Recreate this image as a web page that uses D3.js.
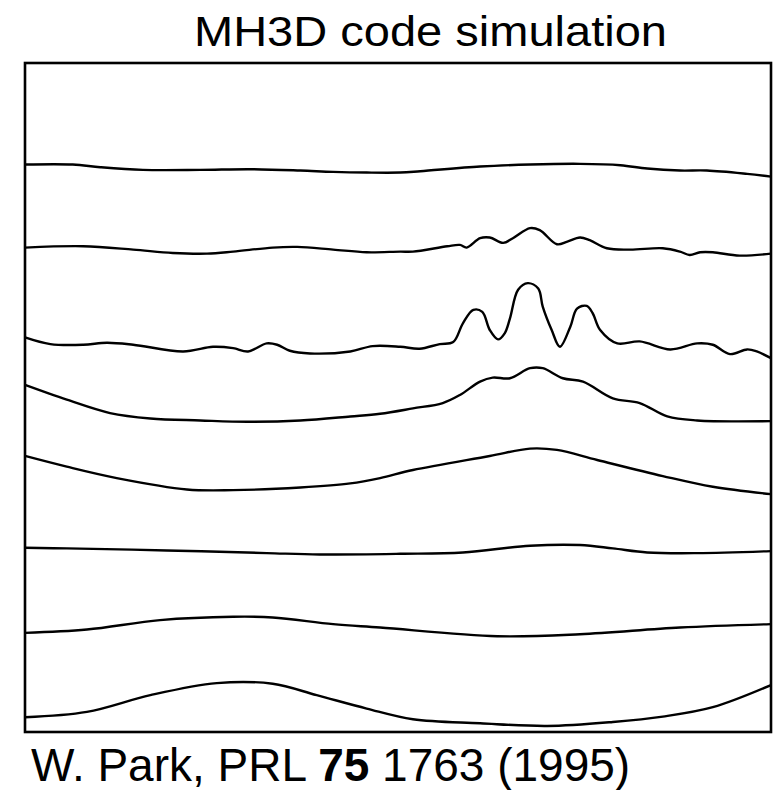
<!DOCTYPE html>
<html>
<head>
<meta charset="utf-8">
<script src="https://cdn.jsdelivr.net/npm/d3@7"></script>
<style>
  html, body { margin: 0; padding: 0; background: #fff; }
  svg { display: block; }
  text { font-family: "Liberation Sans", Arial, Helvetica, sans-serif; fill: #000; }
</style>
</head>
<body>
<div id="chart"></div>
<script>
// x: position across the box (0-100), y: height above box bottom (0-100)
const curve1 = [[0,84.7],[6.4,84.7],[10.1,84.3],[15.8,83.9],[23.5,83.9],[30.2,84.0],[36.9,83.8],[41.3,83.6],[45.8,83.5],[50.3,83.5],[53.0,83.7],[61.0,84.4],[67.7,84.7],[74.4,84.8],[79.8,84.6],[83.4,84.1],[87.8,83.8],[91.4,83.8],[96.8,83.3],[100,82.9]];
const curve2 = [[0,72.3],[7.8,72.5],[14.5,72.0],[19.8,71.5],[24.4,71.4],[27.9,71.7],[33.2,72.3],[36.5,72.4],[41.3,72.0],[45.8,71.6],[50.3,71.7],[52.0,71.7],[56.6,72.5],[58.3,72.7],[59.2,72.3],[61.0,73.7],[62.3,73.8],[64.1,73.0],[65.4,73.7],[67.7,75.2],[69.0,74.9],[71.3,72.8],[72.7,73.2],[74.4,73.8],[75.7,73.4],[78.0,72.2],[81.1,72.0],[85.5,72.2],[87.8,71.7],[89.1,71.2],[90.5,71.6],[92.2,71.6],[95.8,71.1],[100,71.4]];
const curve3 = [[0,58.9],[3.4,57.9],[7.8,57.8],[11.0,58.1],[14.5,57.8],[21.2,56.8],[25.2,57.5],[27.9,57.3],[29.9,56.8],[32.4,58.0],[33.8,57.8],[35.5,56.9],[38.2,56.5],[43.6,56.8],[46.6,57.6],[50.3,57.5],[52.9,57.2],[55.6,57.9],[57.4,58.2],[58.7,61.0],[60.1,63.0],[61.3,62.7],[62.3,60.0],[63.4,58.6],[64.3,59.5],[65.0,61.7],[66.1,66.0],[67.4,67.0],[68.8,66.2],[69.4,63.5],[70.6,60.0],[71.7,57.5],[73.1,60.5],[74.0,63.2],[75.3,63.6],[76.1,62.5],[77.1,60.0],[79.4,58.0],[82.4,58.3],[86.5,57.1],[90.1,58.0],[92.2,57.8],[94.5,56.4],[96.8,57.1],[98.1,56.8],[100,55.8]];
const curve4 = [[0,51.8],[5.6,49.6],[11.4,47.6],[16.8,46.8],[23.5,46.5],[29.8,46.3],[36.9,46.5],[43.6,47.1],[47.6,47.5],[52.0,48.3],[56.0,49.1],[58.3,50.3],[61.0,52.3],[62.7,52.9],[65.0,52.8],[67.7,54.3],[69.4,54.3],[72.1,52.8],[74.8,52.3],[78.8,49.8],[82.4,49.1],[86.1,47.1],[90.1,46.5],[100,46.4]];
const curve5 = [[0,41.2],[5.6,39.6],[12.3,37.9],[21.7,36.2],[27.9,36.1],[36.9,36.5],[43.6,37.1],[47.6,37.9],[52.0,39.1],[62.3,41.2],[67.7,42.3],[71.3,42.1],[76.7,40.6],[85.5,38.2],[92.2,36.6],[100,35.5]];
const curve6 = [[0,27.5],[5.6,27.4],[19.0,27.1],[32.4,26.7],[39.5,26.5],[50.3,26.6],[58.7,26.8],[67.7,27.8],[74.4,27.9],[78.8,27.4],[83.4,26.8],[90.1,26.7],[100,27.0]];
const curve7 = [[0,14.8],[8.3,15.3],[18.1,16.7],[27.9,17.2],[33.2,17.1],[41.3,16.1],[47.6,15.6],[63.3,14.3],[74.4,14.6],[87.8,15.6],[100,16.1]];
const curve8 = [[0,2.2],[8.3,3.0],[16.8,5.5],[25.7,7.3],[33.2,7.2],[39.1,5.5],[45.8,3.5],[52.0,1.9],[61.0,1.3],[70.0,0.9],[78.8,1.5],[85.5,2.3],[92.2,3.7],[100,7.0]];
const curves = [curve1, curve2, curve3, curve4, curve5, curve6, curve7, curve8];

const titleText = "MH3D code simulation";
const citePre = "W. Park, PRL ";
const citeBold = "75";
const citePost = " 1763 (1995)";

const W = 779, H = 790;
const box = {left: 25, top: 63, right: 771, bottom: 732};

const svg = d3.select("#chart").append("svg")
  .attr("width", W).attr("height", H);

const x = d3.scaleLinear().domain([0, 100]).range([box.left, box.right]);
const y = d3.scaleLinear().domain([0, 100]).range([box.bottom, 62]);

const line = d3.line()
  .x(d => x(d[0]))
  .y(d => y(d[1]))
  .curve(d3.curveCatmullRom.alpha(0.5));

svg.append("g").selectAll("path")
  .data(curves)
  .join("path")
  .attr("d", line)
  .attr("fill", "none")
  .attr("stroke", "#000")
  .attr("stroke-width", 2.4)
  .attr("stroke-linejoin", "round");

svg.append("rect")
  .attr("x", box.left).attr("y", box.top)
  .attr("width", box.right - box.left).attr("height", box.bottom - box.top)
  .attr("fill", "none").attr("stroke", "#000").attr("stroke-width", 2.6);

svg.append("text")
  .attr("x", 194).attr("y", 46)
  .attr("font-size", 42)
  .attr("textLength", 473)
  .attr("lengthAdjust", "spacingAndGlyphs")
  .text(titleText);

const cite = svg.append("text")
  .attr("x", 31).attr("y", 781)
  .attr("font-size", 46);
cite.append("tspan").text(citePre);
cite.append("tspan").attr("font-weight", "bold").text(citeBold);
cite.append("tspan").text(citePost);
</script>
</body>
</html>
